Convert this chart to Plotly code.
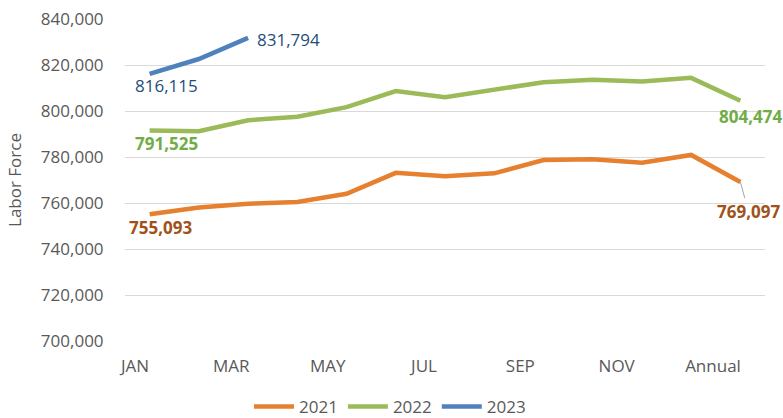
import plotly.graph_objects as go

months = ["JAN", "FEB", "MAR", "APR", "MAY", "JUN", "JUL", "AUG", "SEP", "OCT", "NOV", "DEC", "Annual"]
lf_2021 = [755093, 758000, 759700, 760400, 764000, 773100, 771600, 772900, 778700, 779000, 777500, 780900, 769097]
lf_2022 = [791525, 791200, 796000, 797500, 801700, 808700, 806000, 809300, 812500, 813600, 812800, 814400, 804474]
lf_2023 = [816115, 822600, 831794]
y_ticks = [700000, 720000, 740000, 760000, 780000, 800000, 820000, 840000]

FONT = "Open Sans"
GREY = "#595959"
C21, C22, C23 = "#E6802F", "#9BBB59", "#4F81BD"
L21, L22, L23 = "#A0521A", "#70AD47", "#1F4E79"

fig = go.Figure()
for name, vals, col in [("2021", lf_2021, C21), ("2022", lf_2022, C22), ("2023", lf_2023, C23)]:
    fig.add_trace(go.Scatter(x=months[:len(vals)], y=vals, name=name, mode="lines",
                             line=dict(color=col, width=4.5), hoverinfo="skip"))

# invisible helper trace so the label axis (xaxis2) is drawn
fig.add_trace(go.Scatter(x=list(range(len(months))), y=[None] * len(months), xaxis="x2", yaxis="y",
                         mode="lines", showlegend=False, hoverinfo="skip"))

def fmt(v):
    return f"{v:,}"

anns = [
    dict(x=months[0], y=lf_2023[0], text=fmt(lf_2023[0]), color=L23, bold=False, xs=17, ys=-12, xa="center"),
    dict(x=months[len(lf_2023) - 1], y=lf_2023[-1], text=fmt(lf_2023[-1]), color=L23, bold=False, xs=7, ys=-2, xa="left"),
    dict(x=months[0], y=lf_2022[0], text=fmt(lf_2022[0]), color=L22, bold=True, xs=17, ys=-13, xa="center"),
    dict(x=months[-1], y=lf_2022[-1], text=fmt(lf_2022[-1]), color=L22, bold=True, xs=10, ys=-16, xa="center"),
    dict(x=months[0], y=lf_2021[0], text=fmt(lf_2021[0]), color=L21, bold=True, xs=11, ys=-13, xa="center"),
]
for a in anns:
    txt = f"<b>{a['text']}</b>" if a["bold"] else a["text"]
    fig.add_annotation(x=a["x"], y=a["y"], xref="x", yref="y", text=txt, showarrow=False,
                       xanchor=a["xa"], yanchor="middle", xshift=a["xs"], yshift=a["ys"],
                       font=dict(family=FONT, size=17, color=a["color"]))
# Annual 2021 label with leader line
fig.add_annotation(x=months[-1], y=lf_2021[-1], xref="x", yref="y", text=f"<b>{fmt(lf_2021[-1])}</b>",
                   showarrow=True, arrowhead=0, arrowwidth=1, arrowcolor="#A6A6A6", ax=8, ay=29,
                   xanchor="center", yanchor="middle",
                   font=dict(family=FONT, size=17, color=L21))

fig.update_layout(
    width=783, height=418, autosize=False,
    margin=dict(l=125, r=18, t=19, b=77, autoexpand=False),
    paper_bgcolor="white", plot_bgcolor="white",
    font=dict(family=FONT, color=GREY),
    xaxis=dict(type="category", categoryorder="array", categoryarray=months,
               range=[-0.5, 12.5], showticklabels=False, showgrid=False, zeroline=False,
               showline=False, ticks=""),
    xaxis2=dict(overlaying="x", anchor="y", side="bottom", type="linear",
                range=[-10 / 48.17, 12 + 52 / 48.17], tickmode="array",
                tickvals=list(range(0, len(months), 2)), ticktext=months[::2],
                showgrid=False, zeroline=False, showline=False,
                ticks="outside", ticklen=10, tickcolor="rgba(0,0,0,0)",
                tickfont=dict(family=FONT, size=17, color=GREY)),
    yaxis=dict(range=[700000, 840000], tickvals=y_ticks, tickformat=",",
               showgrid=True, gridcolor="#D9D9D9", gridwidth=1, zeroline=False, showline=False,
               ticks="outside", ticklen=17, tickcolor="rgba(0,0,0,0)",
               tickfont=dict(family=FONT, size=17, color=GREY),
               title=dict(text="Labor Force", font=dict(family=FONT, size=17, color=GREY), standoff=14)),
    legend=dict(orientation="h", xref="paper", yref="paper", x=(390 - 125) / 640, y=-(407 - 341) / 322,
                xanchor="center", yanchor="middle", font=dict(family=FONT, size=17, color=GREY),
                itemwidth=40, tracegroupgap=0),
    showlegend=True,
)
fig.write_html("out.html", config={"displayModeBar": False},
               post_script="document.body.style.margin='0';")
